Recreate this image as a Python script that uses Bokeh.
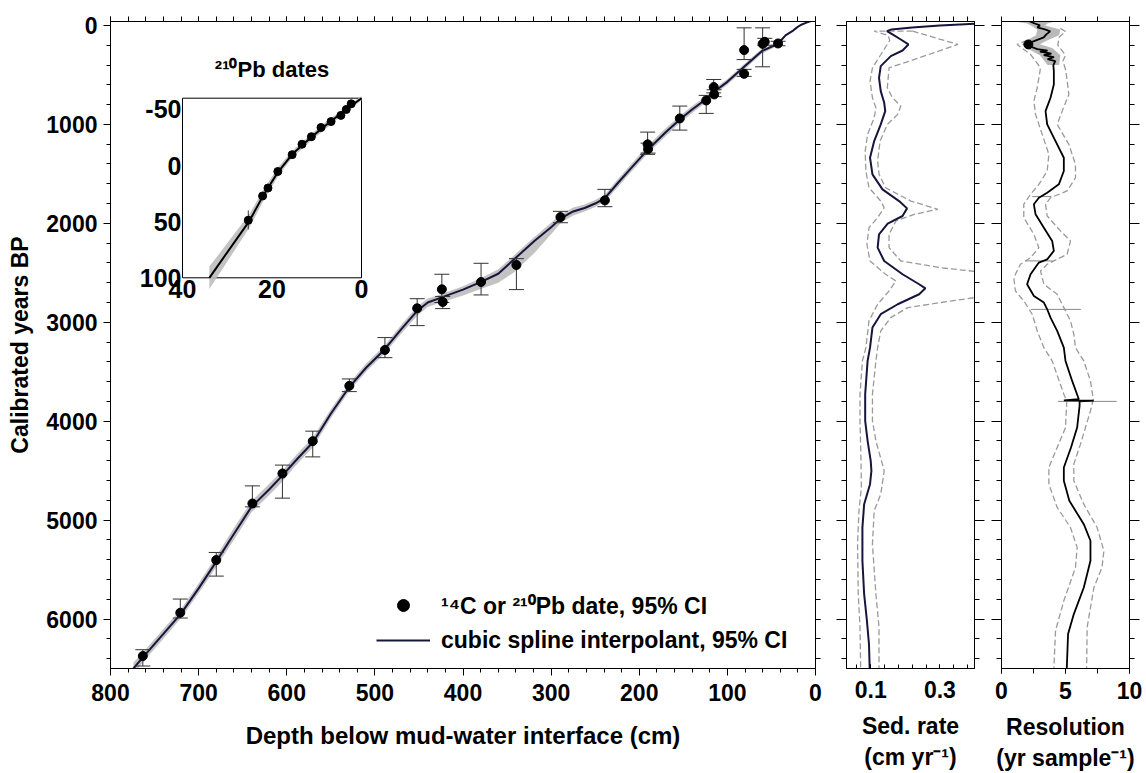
import numpy as np
from bokeh.plotting import figure
from bokeh.models import (Range1d, LinearAxis, FixedTicker, Legend, LegendItem,
                          CustomJSTickFormatter)
from bokeh.layouts import row
from bokeh.embed import file_html
from bokeh.resources import INLINE
from bokeh.core.properties import value

FONT = "Liberation Sans"

# ---------------- main panel: dates ----------------
date_depth = [763.3, 720.8, 680, 639, 604.9, 570.5, 529, 488.6, 452, 424, 423, 379.5, 339.4,
              289.4, 239, 190.5, 190, 154, 124, 115.5, 115, 81, 81, 60, 57.6, 42.5]
date_age = [6374, 5936, 5404, 4832, 4529, 4202, 3643, 3280, 2859, 2667, 2795, 2593, 2421,
            1937, 1768, 1202, 1250, 940, 758, 623, 697, 249, 489, 186, 165, 182]
date_lo = [6310, 5798, 5327, 4654, 4444, 4101, 3573, 3155, 2762, 2515, 2740, 2404, 2357,
           1879, 1657, 1078, 1190, 815, 707, 546, 650, 24, 444, 24, 130, 160]
date_hi = [6475, 5990, 5566, 4866, 4778, 4361, 3701, 3358, 3034, 2800, 2862, 2724, 2670,
           1994, 1832, 1303, 1290, 1058, 889, 681, 720, 345, 515, 418, 200, 205]

# cubic spline age-depth model
curve_depth = [774, 763, 740, 720, 700, 680, 660, 640, 620, 605, 590, 570, 550, 529, 510, 489,
               470, 452, 440, 425, 400, 380, 360, 342, 319, 300, 289, 275, 262, 250, 239, 225,
               209, 190, 170, 154, 140, 122, 115, 100, 80, 61, 42.5, 34, 25, 22, 18.7, 15.5,
               11, 7, 3.4, 0]
curve_age = [6500, 6385, 6150, 5945, 5690, 5420, 5140, 4865, 4690, 4550, 4400, 4210, 3925, 3655,
             3460, 3275, 3070, 2885, 2800, 2751, 2670, 2595, 2510, 2364, 2179, 2040, 1950, 1880,
             1845, 1800, 1745, 1600, 1440, 1253, 1080, 950, 850, 731, 670, 570, 411, 260, 185,
             100, 49, 27, 6, -10, -26, -39, -50, -60]
band_minus = [60, 50, 50, 45, 50, 55, 60, 55, 55, 50, 50, 50, 45, 40, 40, 40, 45, 45, 40, 35,
              35, 40, 45, 40, 40, 45, 40, 40, 35, 35, 35, 40, 40, 40, 40, 35, 35, 30, 30, 30,
              30, 25, 20, 10, 6, 5, 4, 3, 3, 3, 2, 2]
band_plus = [60, 50, 50, 45, 50, 55, 60, 55, 60, 60, 50, 50, 45, 40, 40, 40, 45, 50, 45, 50,
             60, 70, 90, 130, 120, 70, 45, 40, 35, 35, 35, 40, 40, 40, 40, 35, 35, 30, 30, 30,
             30, 25, 20, 10, 6, 5, 4, 3, 3, 3, 2, 2]

x_ticks = [800, 700, 600, 500, 400, 300, 200, 100, 0]
y_ticks = [0, 1000, 2000, 3000, 4000, 5000, 6000]

# ---------------- inset: 210Pb dates ----------------
pb_depth = [25.3, 22.1, 20.9, 18.7, 15.5, 13.3, 11.2, 9.05, 6.8, 4.6, 3.4, 2.3]
pb_age = [48.7, 27.1, 20, 5.3, -9.7, -19, -25.7, -33.9, -39.2, -44.7, -50, -55]
pb_err_depth = [25.3]
pb_err_lo = [40]
pb_err_hi = [57]
inset_x_lim = (40, 0)
inset_y_lim = (-60, 100)
inset_x_ticks = [40, 20, 0]
inset_y_ticks = [-50, 0, 50, 100]

# ---------------- sedimentation rate ----------------
sed_age = [-40, -20, 0, 20, 40, 57, 91, 142, 192, 253, 310, 411, 529, 664, 782, 866, 1000,
           1169, 1337, 1505, 1657, 1775, 1849, 1926, 2004, 2111, 2246, 2381, 2515, 2616, 2657,
           2717, 2818, 2919, 3054, 3257, 3391, 3727, 3997, 4199, 4401, 4502, 4637, 4839, 5075,
           5411, 5748, 6017, 6253, 6500]
sed_mid = [0.9, 0.42, 0.30, 0.22, 0.16, 0.147, 0.163, 0.187, 0.209, 0.192, 0.158, 0.129, 0.124,
           0.129, 0.139, 0.142, 0.129, 0.11, 0.098, 0.105, 0.134, 0.182, 0.205, 0.192, 0.149,
           0.124, 0.12, 0.139, 0.192, 0.24, 0.258, 0.24, 0.178, 0.129, 0.105, 0.098, 0.091,
           0.084, 0.084, 0.091, 0.1, 0.102, 0.098, 0.081, 0.076, 0.076, 0.081, 0.089, 0.095,
           0.097]
sed_hi_age = [58, 192, 344, 428, 630, 731, 815, 899, 1000, 1169, 1370, 1505, 1640, 1775, 1858,
              1909, 1976, 2111, 2246, 2381, 2448, 2482, 2500, 2620, 2740, 2751, 2802, 2852, 2953,
              3087, 3257, 3391, 3727, 3997, 4199, 4502, 4739, 4906, 5243, 5748, 6084, 6500]
sed_hi = [0.221, 0.352, 0.226, 0.153, 0.148, 0.163, 0.187, 0.178, 0.148, 0.127, 0.12, 0.124,
          0.143, 0.216, 0.294, 0.226, 0.173, 0.153, 0.153, 0.187, 0.3, 0.39, 0.45, 0.7, 0.45,
          0.4, 0.3, 0.207, 0.158, 0.129, 0.12, 0.115, 0.105, 0.105, 0.115, 0.139, 0.129, 0.11,
          0.105, 0.115, 0.124, 0.124]
sed_lo_age = [58, 58, 101, 150, 296, 428, 562, 731, 832, 933, 1101, 1270, 1471, 1640, 1775, 1842,
              1943, 2044, 2212, 2381, 2515, 2583, 2684, 2818, 2986, 3257, 3391, 3727, 3997, 4401,
              4670, 4906, 5243, 5748, 6084, 6500]
sed_lo = [0.221, 0.11, 0.15, 0.155, 0.129, 0.105, 0.098, 0.105, 0.115, 0.11, 0.091, 0.084,
          0.086, 0.095, 0.129, 0.139, 0.12, 0.095, 0.089, 0.098, 0.143, 0.173, 0.153, 0.12,
          0.095, 0.086, 0.076, 0.069, 0.069, 0.072, 0.073, 0.066, 0.062, 0.064, 0.069, 0.071]
sed_ticks = [0.1, 0.3]
sed_minor = [0.06, 0.1, 0.14, 0.18, 0.22, 0.26, 0.3, 0.34, 0.38]

# ---------------- resolution ----------------
res_age = [-40, -20, 0, 20, 40, 60, 90, 120, 150, 175, 192, 215, 240, 255, 265, 285, 300, 320,
           340, 360, 400, 461, 596, 731, 866, 1000, 1169, 1337, 1471, 1606, 1690, 1741, 1808,
           1909, 2044, 2178, 2279, 2364, 2397, 2515, 2616, 2734, 2801, 2869, 2953, 3087, 3257,
           3391, 3593, 3778, 3790, 3792, 3800, 3846, 4064, 4266, 4468, 4603, 4805, 5041, 5209,
           5411, 5681, 5950, 6152, 6500]
res_mid = [2.2, 2.6, 3.0, 2.8, 3.4, 3.8, 3.5, 3.3, 2.7, 2.2, 2.1, 2.3, 2.8, 3.6, 3.0, 3.9, 3.3,
           4.1, 3.6, 4.2, 4.05, 4.09, 4.09, 3.83, 3.44, 3.57, 4.22, 4.87, 4.87, 4.48, 3.57, 2.92,
           2.53, 2.66, 3.31, 3.96, 4.09, 3.57, 2.92, 2.27, 2.0, 2.53, 3.31, 3.57, 3.83, 4.35,
           4.87, 5.0, 5.52, 6.04, 4.87, 7.2, 6.1, 6.1, 5.91, 5.43, 4.87, 4.87, 5.3, 6.43, 6.95,
           6.95, 6.43, 5.65, 5.2, 5.1]
res_hi_age = [30, 61, 120, 200, 300, 360, 445, 529, 697, 866, 1000, 1202, 1404, 1539, 1673, 1741,
              1808, 1926, 2077, 2178, 2313, 2380, 2414, 2482, 2616, 2717, 2852, 2986, 3120, 3257,
              3391, 3593, 3778, 3896, 4232, 4434, 4603, 4839, 5075, 5310, 5479, 5681, 6084, 6500]
res_hi = [4.6, 5.0, 4.5, 4.4, 5.0, 4.8, 5.0, 5.1, 5.26, 4.74, 4.35, 5.26, 5.78, 5.78, 5.13, 3.83,
          3.44, 3.57, 4.61, 5.39, 5.13, 4.09, 3.57, 3.05, 3.31, 4.35, 4.87, 5.39, 5.65, 5.78,
          6.43, 6.95, 7.17, 6.95, 6.17, 5.65, 5.65, 6.43, 7.47, 8.0, 7.85, 7.22, 6.69, 6.65]
res_lo_age = [150, 192, 293, 428, 630, 764, 899, 1101, 1303, 1471, 1606, 1707, 1808, 1943, 2111,
              2246, 2347, 2414, 2549, 2684, 2784, 2919, 3087, 3257, 3391, 3727, 3795, 4064, 4266,
              4468, 4637, 4872, 5075, 5276, 5479, 5815, 6118, 6500]
res_lo = [2.0, 1.22, 2.27, 3.05, 2.79, 2.53, 2.66, 3.18, 3.7, 3.57, 2.92, 2.27, 1.74, 1.74, 2.53,
          2.92, 2.27, 1.48, 0.96, 1.09, 1.74, 2.4, 2.79, 3.31, 3.96, 4.87, 5.1, 5.0, 4.35, 3.7,
          3.7, 4.35, 5.39, 5.91, 5.78, 4.87, 4.22, 4.09]
res_band_age = [-36, -20, 0, 40, 100, 150, 190, 230, 300, 400]
res_band_lo = [1.3, 2.0, 2.3, 2.8, 2.7, 2.0, 1.6, 2.0, 3.0, 3.6]
res_band_hi = [4.0, 3.6, 3.4, 4.6, 4.5, 3.6, 3.0, 4.0, 4.6, 4.5]
res_jump_age = [1730, 2380, 2870, 3800]
res_jump_x0 = [2.4, 1.9, 2.3, 4.4]
res_jump_x1 = [3.9, 4.0, 6.2, 9.0]
res_dot_age = [192]
res_dot_val = [2.1]
res_ticks = [0, 5, 10]
res_minor = [0, 2.5, 5, 7.5, 10]

age_minor = list(range(0, 6600, 200))

LINE = "#16163c"
DASH = "#9a9a9a"
BAR = "#333333"


def style_axis(ax, major_out, minor_out, major_in=0, minor_in=0, labels=True, fs="23px"):
    ax.axis_line_color = "black"
    ax.axis_line_width = 1
    ax.major_tick_line_color = "black"
    ax.minor_tick_line_color = "black"
    ax.major_tick_out = major_out
    ax.major_tick_in = major_in
    ax.minor_tick_out = minor_out
    ax.minor_tick_in = minor_in
    ax.major_label_text_font = FONT
    ax.major_label_text_font_style = "bold"
    ax.major_label_text_font_size = fs
    ax.major_label_text_color = "black"
    ax.axis_label_text_font = FONT
    ax.axis_label_text_font_style = "bold"
    ax.axis_label_text_color = "black"
    if not labels:
        ax.formatter = CustomJSTickFormatter(code="return ''")
        ax.major_label_text_font_size = "0px"
        ax.major_label_standoff = 0


def base_fig(frame_w, bl, br, xr):
    f = figure(frame_width=frame_w, frame_height=647, min_border_left=bl, min_border_right=br,
               min_border_top=21, min_border_bottom=105, x_range=xr,
               y_range=Range1d(6500, -40), output_backend="svg", toolbar_location=None)
    f.xgrid.visible = False
    f.ygrid.visible = False
    f.outline_line_color = "black"
    f.background_fill_color = "white"
    f.border_fill_color = "white"
    return f


# ================= main figure =================
p = base_fig(705, 110, 15, Range1d(800, 0))
p.extra_x_ranges = {"ix": Range1d(56.09, -101.45)}
p.extra_y_ranges = {"iy": Range1d(448.06, -128.33)}

xb = p.xaxis[0]
xb.ticker = FixedTicker(ticks=x_ticks, minor_ticks=list(range(0, 820, 20)))
style_axis(xb, 7, 4)
xb.major_label_standoff = 8
xb.axis_label = "Depth below mud-water interface (cm)"
xb.axis_label_text_font_size = "24px"
xb.axis_label_standoff = 18

yl = p.yaxis[0]
yl.ticker = FixedTicker(ticks=y_ticks, minor_ticks=age_minor)
style_axis(yl, 7, 4)
yl.major_label_standoff = 6
yl.axis_label = "Calibrated years BP"
yl.axis_label_text_font_size = "23px"
yl.axis_label_standoff = 10

xt = LinearAxis(ticker=FixedTicker(ticks=x_ticks, minor_ticks=list(range(0, 820, 20))))
style_axis(xt, 5, 5, labels=False)
p.add_layout(xt, "above")
yr = LinearAxis(ticker=FixedTicker(ticks=y_ticks, minor_ticks=age_minor))
style_axis(yr, 5, 5, labels=False)
p.add_layout(yr, "right")

c_depth = np.array(curve_depth, dtype=float)
c_age = np.array(curve_age, dtype=float)
c_lo = c_age - np.array(band_minus)
c_hi = c_age + np.array(band_plus)

p.varea(x=c_depth, y1=c_lo, y2=c_hi, fill_color="#bdbdbd", fill_alpha=0.9)
curve_r = p.line(c_depth, c_age, line_width=2, color=LINE)
p.segment(x0=date_depth, y0=date_lo, x1=date_depth, y1=date_hi, line_color=BAR, line_width=1)
p.scatter(date_depth, date_lo, marker="dash", size=15, line_color=BAR, line_width=1)
p.scatter(date_depth, date_hi, marker="dash", size=15, line_color=BAR, line_width=1)
dots_r = p.scatter(date_depth, date_age, size=9, color="black")

# inset (drawn in its own scales inside the main frame)
ik = dict(x_range_name="ix", y_range_name="iy")
p.quad(left=[inset_x_lim[0]], right=[inset_x_lim[1]], top=[inset_y_lim[0]],
       bottom=[inset_y_lim[1]], fill_color="white", line_color="black", line_width=1, **ik)
p.varea(x=c_depth[43:], y1=c_lo[43:], y2=c_hi[43:], fill_color="#bdbdbd", fill_alpha=0.9, **ik)
p.line(c_depth[43:], c_age[43:], line_width=2, color="black", **ik)
p.segment(x0=pb_err_depth, y0=pb_err_lo, x1=pb_err_depth, y1=pb_err_hi, line_color=BAR, **ik)
p.scatter(pb_depth, pb_age, size=8, color="black", **ik)
p.text(x=[inset_x_lim[0]] * len(inset_y_ticks), y=inset_y_ticks,
       text=[str(v) for v in inset_y_ticks], text_align="right", text_baseline="middle",
       x_offset=-1, text_font=value(FONT), text_font_style="bold", text_font_size="25px",
       text_color="black", **ik)
p.text(x=inset_x_ticks, y=[inset_y_lim[1]] * len(inset_x_ticks),
       text=[str(v) for v in inset_x_ticks], text_align="center", text_baseline="top",
       y_offset=2, text_font=value(FONT), text_font_style="bold", text_font_size="25px",
       text_color="black", **ik)
p.text(x=[(inset_x_lim[0] + inset_x_lim[1]) / 2], y=[inset_y_lim[0]], text=["²¹⁰Pb dates"],
       text_align="center", text_baseline="bottom", y_offset=-16, text_font=value(FONT),
       text_font_style="bold", text_font_size="22px", text_color="black", **ik)

# legend
legend = Legend(items=[LegendItem(label="¹⁴C or ²¹⁰Pb date, 95% CI", renderers=[dots_r]),
                       LegendItem(label="cubic spline interpolant, 95% CI", renderers=[curve_r])],
                location=(266, 13), orientation="vertical", glyph_width=54, glyph_height=30,
                label_height=30, spacing=4, padding=0, margin=0, label_standoff=11,
                label_text_font=FONT, label_text_font_style="bold", label_text_font_size="23px",
                label_text_color="black", background_fill_alpha=0, border_line_alpha=0)
p.add_layout(legend)

# ================= sedimentation rate =================
s = base_fig(128, 16, 14, Range1d(0.03, 0.4))
s.y_range = p.y_range
sx = s.xaxis[0]
sx.ticker = FixedTicker(ticks=sed_ticks, minor_ticks=sed_minor)
style_axis(sx, 0, 0, major_in=4, minor_in=4)
sx.major_label_standoff = 12
sx.axis_label = "Sed. rate\n(cm yr⁻¹)"
sx.axis_label_text_font_size = "23px"
sx.axis_label_standoff = 12
sy = s.yaxis[0]
sy.ticker = FixedTicker(ticks=y_ticks, minor_ticks=age_minor)
style_axis(sy, 10, 5, labels=False)
st = LinearAxis(ticker=FixedTicker(ticks=sed_minor, minor_ticks=[]))
style_axis(st, 5, 0, labels=False)
s.add_layout(st, "above")
sr = LinearAxis(ticker=FixedTicker(ticks=y_ticks, minor_ticks=age_minor))
style_axis(sr, 10, 5, labels=False)
s.add_layout(sr, "right")

s.line(sed_hi, sed_hi_age, line_color=DASH, line_width=1.3, line_dash="6 3")
s.line(sed_lo, sed_lo_age, line_color=DASH, line_width=1.3, line_dash="6 3")
s.line(sed_mid, sed_age, line_color=LINE, line_width=2)

# ================= resolution =================
r = base_fig(128, 13, 17, Range1d(0, 10))
r.y_range = p.y_range
rx = r.xaxis[0]
rx.ticker = FixedTicker(ticks=res_ticks, minor_ticks=res_minor)
style_axis(rx, 5, 5)
rx.major_label_standoff = 8
rx.axis_label = "Resolution\n(yr sample⁻¹)"
rx.axis_label_text_font_size = "23px"
rx.axis_label_standoff = 12
ry = r.yaxis[0]
ry.ticker = FixedTicker(ticks=y_ticks, minor_ticks=age_minor)
style_axis(ry, 10, 5, labels=False)
rt = LinearAxis(ticker=FixedTicker(ticks=res_minor, minor_ticks=[]))
style_axis(rt, 5, 0, labels=False)
r.add_layout(rt, "above")
rr = LinearAxis(ticker=FixedTicker(ticks=y_ticks, minor_ticks=age_minor))
style_axis(rr, 10, 5, labels=False)
r.add_layout(rr, "right")

r.harea(y=res_band_age, x1=res_band_lo, x2=res_band_hi, fill_color="#a8a8a8", fill_alpha=0.8)
r.line(res_hi, res_hi_age, line_color=DASH, line_width=1.3, line_dash="6 3")
r.line(res_lo, res_lo_age, line_color=DASH, line_width=1.3, line_dash="6 3")
r.segment(x0=res_jump_x0, y0=res_jump_age, x1=res_jump_x1, y1=res_jump_age,
          line_color="#888888", line_width=1)
r.line(res_mid, res_age, line_color="black", line_width=1.8)
r.scatter(res_dot_val, res_dot_age, size=9, color="black")

layout = row(p, s, r, spacing=0)
open("out.html", "w").write(file_html(layout, INLINE))
